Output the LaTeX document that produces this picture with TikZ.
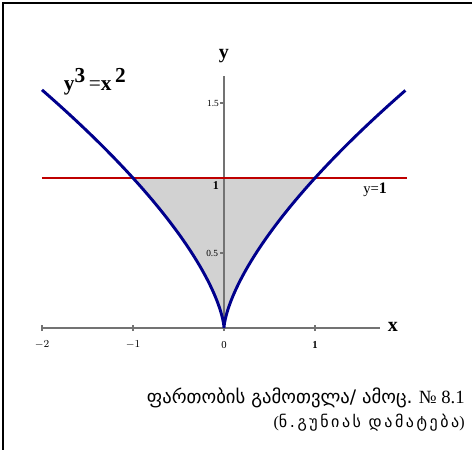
\documentclass[tikz,border=0pt]{standalone}
\usepackage{fontspec}
\setmainfont{Liberation Serif}
\newfontfamily\geofont[Script=Georgian]{DejaVu Sans}
\newfontfamily\geowide[Script=Georgian, LetterSpace=16]{DejaVu Sans}
\usetikzlibrary{positioning}

\begin{document}
\begin{tikzpicture}[
  x=68.25pt, y=112.5pt,
  axis/.style={draw=gray!90!black, line width=1.1pt},
  curve/.style={draw=blue!55!black, line width=2.2pt},
  lvl/.style={draw=red!75!black, line width=2.2pt},
  ticklbl/.style={font=\fontsize{7}{8}\selectfont, inner sep=1pt},
  axlbl/.style={font=\fontsize{15}{16}\selectfont\bfseries, inner sep=1pt},
  captxt/.style={anchor=east, inner sep=0pt}
]
  \useasboundingbox (-2.4615,-0.8133) rectangle (2.7253,2.1867);
  % frame (top and left only)
  \draw[line width=1.6pt] (-2.4286,-0.8133) -- (-2.4286,2.1667) -- (2.7253,2.1667);

  % shaded area
  \fill[gray!35] plot[domain=-1:1, samples=80] ({(\x)^3},{(\x)^2}) -- cycle;

  % axes
  \draw[axis] (-2,0) -- (1.714,0);
  \draw[axis] (0,0) -- (0,1.68);
  \foreach \t in {-2,-1,0,1}
    \draw[axis, line width=0.8pt] (\t,-0.02) -- (\t,0.02);
  \foreach \t in {0.5,1,1.5}
    \draw[axis, line width=0.8pt] (-0.04,\t) -- (0,\t);

  % curves
  \draw[lvl] (-2,1) -- (2.01,1);
  \draw[curve] plot[domain=-1.26:1.26, samples=120] ({(\x)^3},{(\x)^2});

  % labels
  \node[axlbl] (ylbl) at (0,1.81) {y};
  \node[axlbl] (xlbl) at (1.857,0.005) {x};
  \node[axlbl, font=\fontsize{16}{17}\selectfont\bfseries] (eqlbl) at (-1.42,1.64)
    {y\raisebox{6pt}{3}\,{\mdseries=}x\raisebox{6pt}{\,2}};
  \node[ticklbl, font=\fontsize{11}{12}\selectfont] (one) at (1.66,0.92) {y=\textbf{\large 1}};
  \node[ticklbl, font=\fontsize{9}{10}\selectfont\bfseries] (y1) at (-0.09,0.953) {1};
  \node[ticklbl] (y05) at (-0.13,0.5) {0.5};
  \node[ticklbl] (y15) at (-0.12,1.5) {1.5};
  \foreach \t/\s in {-2/$-2$,-1/$-1$,0/0,1/\textbf{1}}
    \node[ticklbl, font=\fontsize{8}{9}\selectfont] (x\t) at (\t,-0.113) {\s};

  % caption
  \node[captxt, font=\fontsize{14}{15}\selectfont] (cap1) at (2.648,-0.467)
    {{\geofont ფართობის გამოთვლა/ ამოც.} № 8.1};
  \node[captxt, font=\fontsize{12}{13}\selectfont] (cap2) at (2.648,-0.633)
    {({\geowide ნ.გუნიას დამატება})};
\end{tikzpicture}
\end{document}
